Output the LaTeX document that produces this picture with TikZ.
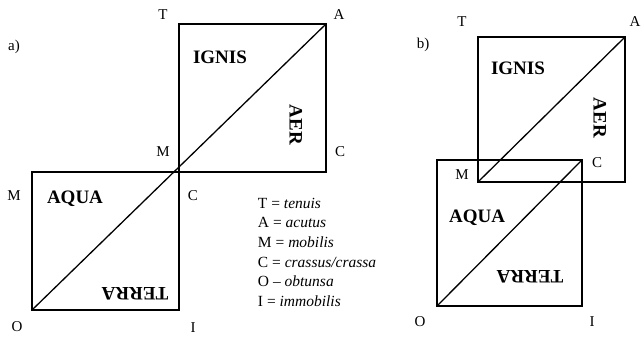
\documentclass[tikz,border=0pt]{standalone}
\usepackage{fontspec}
\setmainfont{Liberation Serif}
\usetikzlibrary{calc,positioning}

\begin{document}
\begin{tikzpicture}[x=1pt,y=-1pt,line width=1.3pt,
    lab/.style={font=\fontsize{15}{16}\selectfont},
    elem/.style={font=\fontsize{19}{20}\selectfont\bfseries},
    leg/.style={font=\fontsize{15.5}{16}\selectfont,anchor=west}]
  \useasboundingbox (0,0) rectangle (643,342);
  % a)
  \coordinate (aT) at (179,24);
  \coordinate (aA) at (326,24);
  \coordinate (aM) at (179,172);
  \coordinate (aC) at (326,172);
  \coordinate (aML) at (32,172);
  \coordinate (aO) at (32,310);
  \coordinate (aI) at (179,310);
  \draw (aT) rectangle (aC) (aML) rectangle (aI);
  \draw (aO) -- (aA);
  \node[lab] (la) at (14,47) {a)};
  \node[lab] (laT) at (163,15) {T};
  \node[lab] (laA) at (339,15) {A};
  \node[lab] (laM) at (163,152) {M};
  \node[lab] (laC) at (340,152) {C};
  \node[lab] (laML) at (14,196) {M};
  \node[lab] (laCL) at (193,196) {C};
  \node[lab] (laO) at (17,327) {O};
  \node[lab] (laI) at (193,328) {I};
  \node[elem] (aIgnis) at (220,57) {IGNIS};
  \node[elem,rotate=-90] (aAer) at (296,125) {AER};
  \node[elem] (aAqua) at (75,199) {AQUA};
  \node[elem,rotate=180] (aTerra) at (135,294) {TERRA};
  % legend
  \node[leg] (k1) at (254,203) {T = \textit{tenuis}};
  \node[leg] (k2) at (254,222) {A = \textit{acutus}};
  \node[leg] (k3) at (254,242) {M = \textit{mobilis}};
  \node[leg] (k4) at (254,262) {C = \textit{crassus/crassa}};
  \node[leg] (k5) at (254,281) {O – \textit{obtunsa}};
  \node[leg] (k6) at (254,301) {I = \textit{immobilis}};
  % b)
  \coordinate (bM) at (478,182);
  \coordinate (bA) at (625,37);
  \coordinate (bO) at (437,306);
  \coordinate (bC) at (582,160);
  \draw (bM) rectangle (bA) (bO) rectangle (bC);
  \draw (bM) -- (bA) (bO) -- (bC);
  \node[lab] (lb) at (423,45) {b)};
  \node[lab] (lbT) at (462,22) {T};
  \node[lab] (lbA) at (635,22) {A};
  \node[lab] (lbM) at (462,175) {M};
  \node[lab] (lbC) at (597,163) {C};
  \node[lab] (lbO) at (420,322) {O};
  \node[lab] (lbI) at (592,322) {I};
  \node[elem] (bIgnis) at (518,68) {IGNIS};
  \node[elem,rotate=-90] (bAer) at (600,118) {AER};
  \node[elem] (bAqua) at (477,218) {AQUA};
  \node[elem,rotate=180] (bTerra) at (530,277) {TERRA};
\end{tikzpicture}
\end{document}
